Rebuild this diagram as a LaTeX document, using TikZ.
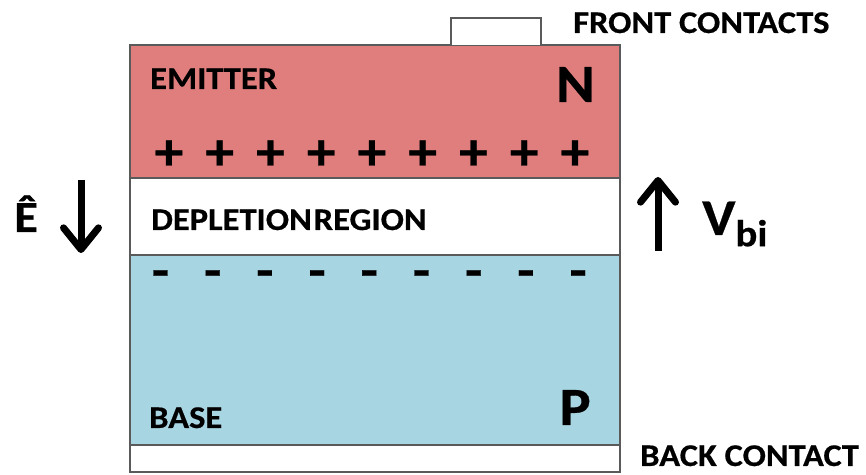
\documentclass[tikz,border=0pt]{standalone}
\usepackage{fontspec}
\setmainfont{Carlito}[BoldFeatures={FakeStretch=1.09, FakeBold=0.5}]
\usepackage{tikz}
\usetikzlibrary{arrows.meta,positioning}
\definecolor{emitred}{HTML}{E07D7D}
\definecolor{baseblue}{HTML}{A8D5E2}
\definecolor{edgegray}{HTML}{5A5A5A}

\begin{document}
\begin{tikzpicture}[x=0.3mm, y=-0.3mm,
  layer/.style={draw=edgegray, line width=0.45mm},
  lbl/.style={inner sep=0pt, anchor=base west, font=\fontsize{27}{27}\selectfont\bfseries},
  big/.style={inner sep=0pt, anchor=base east, font=\fontsize{46}{46}\selectfont\bfseries},
  charge/.style={inner sep=0pt, font=\fontsize{45}{45}\selectfont\bfseries},
  field/.style={line width=2.1mm, -{Straight Barb[length=6.5mm, width=10.5mm, round]}}]
\useasboundingbox (0,0) rectangle (866,475);
% layers of the cell
\draw[layer, fill=emitred] (130,45) rectangle (620,178);
\draw[layer, fill=white] (130,178) rectangle (620,255);
\draw[layer, fill=baseblue] (130,255) rectangle (620,445);
\draw[layer, fill=white] (130,445) rectangle (620,472);
\draw[layer, fill=white] (451,45) -- (451,18) -- (541,18) -- (541,45);
% labels
\node[lbl] (front) at (573,33) {FRONT CONTACTS};
\node[lbl] (emitter) at (150,89) {EMITTER};
\node[lbl] (depl) at (151,230) {DEPLETION\hspace{0.06em}REGION};
\node[lbl] (base) at (149,428) {BASE};
\node[lbl] (back) at (640,466) {BACK CONTACT};
\node[big] (ntype) at (595,102) {N};
\node[big] (ptype) at (591,425) {P};
% fixed charges
\foreach \k in {0,...,8} {
  \node[charge] (plus\k) at ({169+50.75*\k},155) {+};
  \node[charge, font=\fontsize{44}{44}\selectfont\bfseries] (minus\k) at ({160.5+52.2*\k},279) {-};
}
% field and built-in voltage
\coordinate (etop) at (81,180);
\coordinate (ebot) at (81,253);
\coordinate (vbot) at (658,251);
\coordinate (vtop) at (658,177);
\draw[field] (etop) -- (ebot);
\draw[field] (vbot) -- (vtop);
\node[inner sep=0pt, anchor=base west, font=\fontsize{38}{38}\selectfont\bfseries] (efield) at (14,232) {Ê};
\node[inner sep=0pt, anchor=base west, font=\fontsize{44}{44}\selectfont\bfseries] (vbi) at (702,235)
  {V{\fontsize{32}{32}\selectfont\raisebox{-0.3em}{bi}}};
\end{tikzpicture}
\end{document}
